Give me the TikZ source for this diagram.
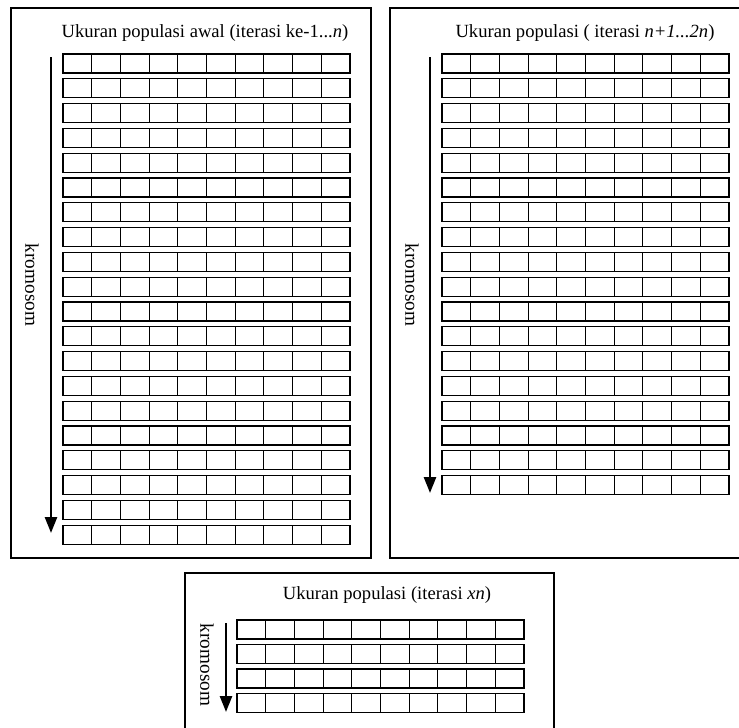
\documentclass[tikz,border=0pt]{standalone}
\usepackage{fontspec}
\setmainfont{Liberation Serif}
\usetikzlibrary{arrows.meta, positioning}

\tikzset{
  gen/.style={draw, line width=1.1pt, minimum width=28.7pt, minimum height=19pt,
    inner sep=0pt, outer sep=0pt, anchor=north west},
  panel/.style={line width=2.6pt},
  judul/.style={font=\fontsize{18.6}{22}\selectfont},
  kromo/.style={font=\fontsize{19.2}{22}\selectfont, rotate=-90},
  arah/.style={-{Triangle[width=12pt,length=16pt]}, line width=2.6pt}
}

\begin{document}
\begin{tikzpicture}[x=1pt, y=-1pt]

  \useasboundingbox (0,0) rectangle (739,728);

  % Panel 1: populasi awal
  \draw[panel] (11,8) rectangle (371,558);
  \node[judul] (judulA) at (205,33) {Ukuran populasi awal (iterasi ke-1...\textit{n})};
  \foreach \r in {0,...,19}
    \foreach \c in {0,...,9}
      \node[gen] (a-\r-\c) at ({63+28.7*\c},{54+24.8*\r}) {};
  \coordinate (a-atas) at (51,57);
  \coordinate (a-bawah) at (51,533);
  \draw[arah] (a-atas) -- (a-bawah);
  \node[kromo] (kromoA) at (32,285) {kromosom};

  % Panel 2: iterasi n+1 ... 2n
  \draw[panel] (390,8) rectangle (748,558);
  \node[judul] (judulB) at (585,33) {Ukuran populasi ( iterasi \textit{n+1...2n})};
  \foreach \r in {0,...,17}
    \foreach \c in {0,...,9}
      \node[gen] (b-\r-\c) at ({442+28.7*\c},{54+24.8*\r}) {};
  \coordinate (b-atas) at (430,57);
  \coordinate (b-bawah) at (430,493);
  \draw[arah] (b-atas) -- (b-bawah);
  \node[kromo] (kromoB) at (412,285) {kromosom};

  % Panel 3: iterasi xn
  \draw[panel] (185,573) rectangle (554,738);
  \node[judul] (judulC) at (387,595) {Ukuran populasi (iterasi \textit{xn})};
  \foreach \r in {0,...,3}
    \foreach \c in {0,...,9}
      \node[gen] (c-\r-\c) at ({237+28.7*\c},{620+24.5*\r}) {};
  \coordinate (c-atas) at (226,623);
  \coordinate (c-bawah) at (226,712);
  \draw[arah] (c-atas) -- (c-bawah);
  \node[kromo] (kromoC) at (207,665) {kromosom};

\end{tikzpicture}
\end{document}
